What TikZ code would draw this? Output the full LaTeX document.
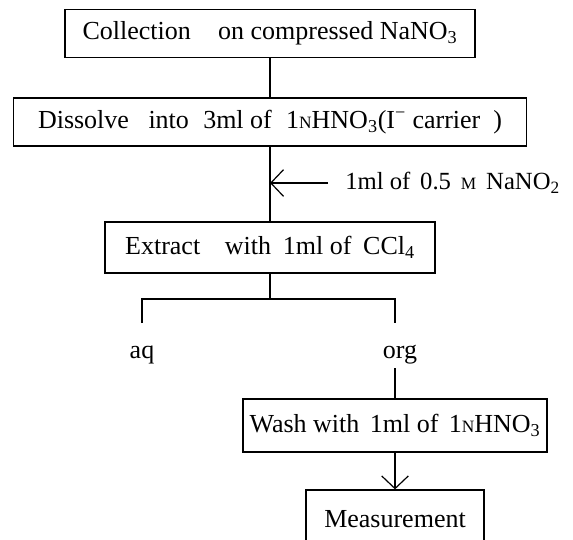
\documentclass[tikz,border=0pt]{standalone}
\usepackage{fontspec}
\setmainfont{Liberation Serif}
\usepackage{tikz}
\usetikzlibrary{arrows.meta,calc,positioning}
\newcommand{\smallN}[1]{{\fontsize{13}{13}\selectfont #1}}

\begin{document}
\begin{tikzpicture}[x=0.75pt,y=-0.75pt,font=\fontsize{19.5}{22}\selectfont,
  stepbox/.style={draw,line width=0.9pt,inner sep=0pt,minimum height=36pt},
  link/.style={line width=0.9pt},
  >={Straight Barb[length=9.5pt,width=20pt]}]
\useasboundingbox (0,0) rectangle (573,539);
% the boxes
\node[stepbox,minimum width=307.5pt] (collect) at (270,33.5) {Collection\hspace{0.8em} on compressed NaNO\textsubscript{3}};
\node[stepbox,minimum width=384.75pt] (dissolve) at (270,122) {Dissolve\hspace{0.5em} into\hspace{0.3em} 3ml of\hspace{0.3em} 1\smallN{N}HNO\textsubscript{3}(I\textsuperscript{−} carrier\hspace{0.5em})};
\node[stepbox,minimum width=247.5pt,minimum height=38.25pt] (extract) at (270,247.5) {Extract\hspace{0.7em} with\hspace{0.2em} 1ml of\hspace{0.2em} CCl\textsubscript{4}};
\node[stepbox,minimum width=228pt,minimum height=39.75pt] (wash) at (395,425.5) {Wash with\hspace{0.15em} 1ml of\hspace{0.15em} 1\smallN{N}HNO\textsubscript{3}};
\node[stepbox,minimum width=133.5pt,minimum height=43.5pt] (measure) at (395,519) {Measurement};
% reagent added on the way
\node[anchor=west,inner xsep=12.75pt,font=\fontsize{18.5}{21}\selectfont] (nitrite) at (328,183) {1ml of\hspace{0.15em} 0.5\hspace{0.15em} \smallN{M}\hspace{0.15em} NaNO\textsubscript{2}};
\coordinate (addpt) at (270,183);
% phases
\node[anchor=base] (aq) at (142,358) {aq};
\node[anchor=base] (org) at (400,358) {org};
\coordinate (split) at (270,299);
\coordinate (aqtick) at (142,323);
\coordinate (orgtick) at (395,323);
% connectors
\draw[link] (collect) -- (dissolve);
\draw[link] (dissolve) -- (extract);
\draw[link,->] (nitrite.west) -- (addpt);
\draw[link] (extract) -- (split);
\draw[link] (aqtick) |- (split) -| (orgtick);
\draw[link] (org.south -| wash.north) -- (wash);
\draw[link,->] (wash) -- (measure);
\end{tikzpicture}
\end{document}
